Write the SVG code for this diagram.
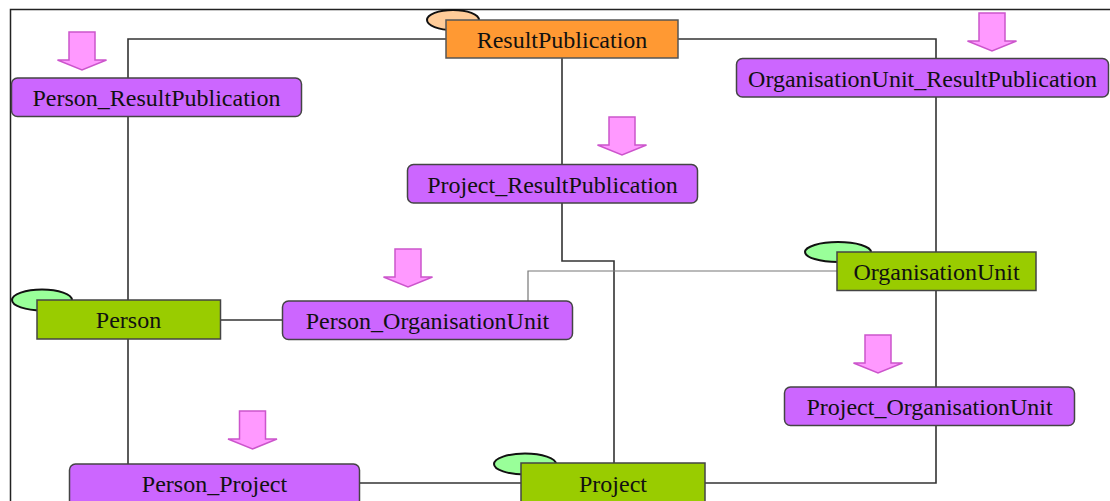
<svg xmlns="http://www.w3.org/2000/svg" width="1110" height="501" viewBox="0 0 1110 501">
<defs>
<style>
.frame{fill:none;stroke:#222;stroke-width:1.5}
.conn{fill:none;stroke:#333;stroke-width:1.6}
.thin{fill:none;stroke:#777;stroke-width:1.2}
.assoc{fill:#CC66FF;stroke:#444;stroke-width:1.5}
.ent{fill:#99CC00;stroke:#444;stroke-width:1.5}
.root{fill:#FF9933;stroke:#555;stroke-width:1.5}
.eg{fill:#99FF99;stroke:#111;stroke-width:2}
.eo{fill:#FFCC99;stroke:#111;stroke-width:2}
.arr{fill:#FF99FF;stroke:#CC55CC;stroke-width:1.5}
.t{font-family:"Liberation Serif","Times New Roman",serif;font-size:24px;fill:#111;text-anchor:middle}
</style>
<path id="dn" d="M-13,0 H13 V28 H24.5 L0,38 L-24.5,28 H-13 Z"/>
</defs>
<path class="frame" d="M10.5,501 V9.5 H1110"/>
<g id="connectors">
<path class="conn" d="M446,39 H128 V464"/>
<path class="conn" d="M678,39 H936 V483 H705"/>
<path class="conn" d="M562,58 V261 H614 V463"/>
<path class="conn" d="M220,320 H282"/>
<path class="conn" d="M360,483 H521"/>
<path class="thin" d="M528,301 V271 H837"/>
</g>
<g id="ResultPublication">
<ellipse class="eo" cx="453" cy="20" rx="26" ry="10"/>
<rect class="root" x="446" y="20" width="232" height="38"/>
<text class="t" x="562" y="48">ResultPublication</text>
</g>
<g id="Person_ResultPublication">
<use href="#dn" class="arr" x="82" y="32"/>
<rect class="assoc" x="11.5" y="78" width="290" height="38.5" rx="6"/>
<text class="t" x="156.5" y="106">Person_ResultPublication</text>
</g>
<g id="OrganisationUnit_ResultPublication">
<use href="#dn" class="arr" x="992" y="13"/>
<rect class="assoc" x="736.5" y="58.5" width="372" height="38.5" rx="6"/>
<text class="t" x="922.5" y="87">OrganisationUnit_ResultPublication</text>
</g>
<g id="Project_ResultPublication">
<use href="#dn" class="arr" x="622" y="117"/>
<rect class="assoc" x="407.5" y="164.5" width="290" height="38.5" rx="6"/>
<text class="t" x="552.5" y="193">Project_ResultPublication</text>
</g>
<g id="OrganisationUnit">
<ellipse class="eg" cx="838" cy="252" rx="33" ry="10"/>
<rect class="ent" x="837" y="252" width="199" height="38.5"/>
<text class="t" x="936.5" y="280">OrganisationUnit</text>
</g>
<g id="Person">
<ellipse class="eg" cx="42" cy="300" rx="30" ry="10.5"/>
<rect class="ent" x="37" y="300" width="183.5" height="39"/>
<text class="t" x="128.5" y="328">Person</text>
</g>
<g id="Person_OrganisationUnit">
<use href="#dn" class="arr" x="408" y="249"/>
<rect class="assoc" x="282.5" y="301" width="290" height="38.5" rx="6"/>
<text class="t" x="427.5" y="329">Person_OrganisationUnit</text>
</g>
<g id="Project_OrganisationUnit">
<use href="#dn" class="arr" x="878" y="335"/>
<rect class="assoc" x="784.5" y="387" width="290" height="38.5" rx="6"/>
<text class="t" x="929.5" y="415">Project_OrganisationUnit</text>
</g>
<g id="Person_Project">
<use href="#dn" class="arr" x="252.5" y="411"/>
<rect class="assoc" x="69.5" y="464" width="290" height="45" rx="6"/>
<text class="t" x="214.5" y="492">Person_Project</text>
</g>
<g id="Project">
<ellipse class="eg" cx="525" cy="464" rx="31" ry="10.5"/>
<rect class="ent" x="521" y="463" width="184" height="45"/>
<text class="t" x="613" y="492">Project</text>
</g>
</svg>
